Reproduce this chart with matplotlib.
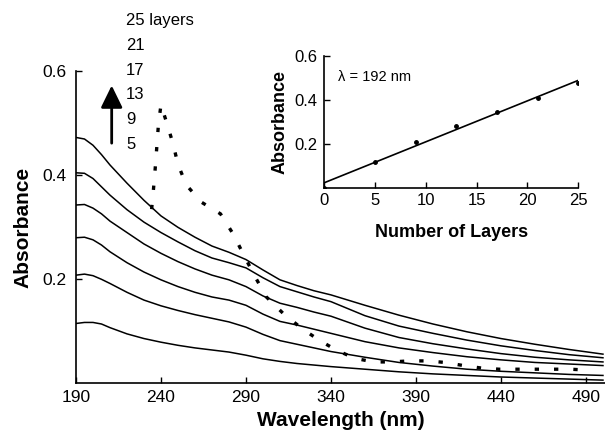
import numpy as np
import matplotlib
matplotlib.use("Agg")
import matplotlib.pyplot as plt

plt.rcParams['font.family'] = ['Liberation Sans', 'DejaVu Sans']

# --- datos ---
wavelength = [190, 195, 200, 205, 210, 220, 230, 240, 250, 260, 270, 280, 290,
              300, 310, 320, 330, 340, 360, 380, 400, 420, 440, 460, 480, 500]

abs_25 = [.473, .470, .458, .440, .420, .385, .352, .322, .300, .281, .264, .252, .238,
          .218, .199, .188, .178, .170, .150, .131, .114, .099, .086, .075, .065, .056]
abs_21 = [.405, .404, .394, .378, .362, .334, .310, .290, .272, .255, .241, .232, .222,
          .203, .186, .176, .166, .157, .130, .110, .096, .083, .072, .063, .055, .049]
abs_17 = [.343, .344, .337, .326, .312, .290, .268, .250, .234, .220, .208, .199, .186,
          .168, .154, .146, .137, .129, .106, .088, .076, .066, .057, .050, .045, .041]
abs_13 = [.280, .281, .276, .266, .253, .232, .214, .199, .186, .175, .166, .160, .150,
          .133, .119, .112, .104, .096, .080, .068, .059, .051, .045, .040, .037, .034]
abs_9 = [.208, .210, .207, .200, .192, .175, .160, .149, .140, .132, .125, .118, .108,
         .094, .082, .075, .068, .061, .050, .040, .033, .027, .023, .020, .017, .015]
abs_5 = [.115, .117, .117, .114, .107, .095, .086, .079, .073, .068, .064, .060, .054,
         .047, .042, .038, .035, .032, .027, .022, .018, .015, .012, .010, .008, .006]

# curva punteada (pico ~240 nm)
wl_dash = [234.5, 235.5, 236.5, 237.5, 238.5, 240, 243, 247, 250, 255, 264, 275, 282.5,
           288.5, 295, 302, 312, 323, 333, 343, 354, 365, 376, 386, 397, 407, 418, 429,
           439, 450, 460, 471, 481, 492]
abs_dash = [.335, .370, .409, .453, .498, .536, .505, .462, .421, .381, .348, .326, .287,
            .248, .207, .166, .134, .105, .083, .064, .048, .041, .041, .043, .043, .040,
            .034, .029, .027, .027, .027, .027, .027, .025]

layer_labels = ['25 layers', '21', '17', '13', '9', '5']

# inset: absorbancia a 192 nm vs numero de capas
layers = [0, 5, 9, 13, 17, 21, 25]
abs_192 = [0.0, 0.118, 0.209, 0.280, 0.345, 0.409, 0.475]

x_ticks = [190, 240, 290, 340, 390, 440, 490]
y_ticks = [0.2, 0.4, 0.6]

fig = plt.figure(figsize=(6.05, 4.4), dpi=100)
ax = fig.add_axes([0.1256, 0.129, 0.8744, 0.7086])

for serie in [abs_25, abs_21, abs_17, abs_13, abs_9, abs_5]:
    ax.plot(wavelength, serie, color='black', lw=1.1)
ax.plot(wl_dash, abs_dash, color='black', lw=2.4, linestyle=(0, (1.3, 4.5)),
        dash_capstyle='butt')

ax.set_xlim(190, 501.2)
ax.set_ylim(0, 0.6)
ax.set_xticks(x_ticks)
ax.set_yticks(y_ticks)
ax.set_yticklabels(['0.2', '0.4', '0.6'])
for s in ['top', 'right']:
    ax.spines[s].set_visible(False)
for s in ['left', 'bottom']:
    ax.spines[s].set_linewidth(1.2)
ax.tick_params(axis='x', direction='in', length=4, width=1, pad=5, labelsize=12.5)
ax.tick_params(axis='y', direction='in', length=4, width=1, pad=6.5, labelsize=12.5)
ax.set_xlabel('Wavelength (nm)', fontsize=15, fontweight='bold')
ax.set_ylabel('Absorbance', fontsize=15, fontweight='bold')
ax.xaxis.set_label_coords(0.5, -0.089)
ax.yaxis.set_label_coords(-0.083, 0.5)

# etiquetas de capas y flecha
for i, lab in enumerate(layer_labels):
    ax.text(0.0945, 1.163 - i * 0.0792, lab, transform=ax.transAxes,
            ha='left', va='center', fontsize=12)
ax.annotate('', xy=(211, 0.573), xytext=(211, 0.462),
            arrowprops=dict(arrowstyle='-|>,head_length=0.45,head_width=0.22',
                            color='black', lw=2, mutation_scale=30,
                            shrinkA=0, shrinkB=0),
            annotation_clip=False)

# --- inset ---
ax2 = fig.add_axes([0.5355, 0.5734, 0.4204, 0.2993])
pend, ord0 = np.polyfit(layers, abs_192, 1)
x_fit = np.array([layers[0], layers[-1]])
ax2.plot(layers, abs_192, 'o', color='black', ms=2.5)
ax2.plot(x_fit, pend * x_fit + ord0, color='black', lw=1.2)
ax2.set_xlim(0, 25)
ax2.set_ylim(0, 0.6)
ax2.set_xticks([0, 5, 10, 15, 20, 25])
ax2.set_yticks([0.2, 0.4, 0.6])
ax2.set_yticklabels(['0.2', '0.4', '0.6'])
for s in ['top', 'right']:
    ax2.spines[s].set_visible(False)
for s in ['left', 'bottom']:
    ax2.spines[s].set_linewidth(1.2)
ax2.tick_params(axis='x', direction='in', length=4, width=1, pad=4, labelsize=12)
ax2.tick_params(axis='y', direction='in', length=4, width=1, pad=5, labelsize=12)
ax2.set_xlabel('Number of Layers', fontsize=13, fontweight='bold')
ax2.set_ylabel('Absorbance', fontsize=13, fontweight='bold')
ax2.xaxis.set_label_coords(0.5, -0.279)
ax2.yaxis.set_label_coords(-0.138, 0.5)
ax2.text(0.055, 0.843, 'λ = 192 nm', transform=ax2.transAxes,
         ha='left', va='center', fontsize=10.5)

fig.savefig('out.png', dpi=100)
